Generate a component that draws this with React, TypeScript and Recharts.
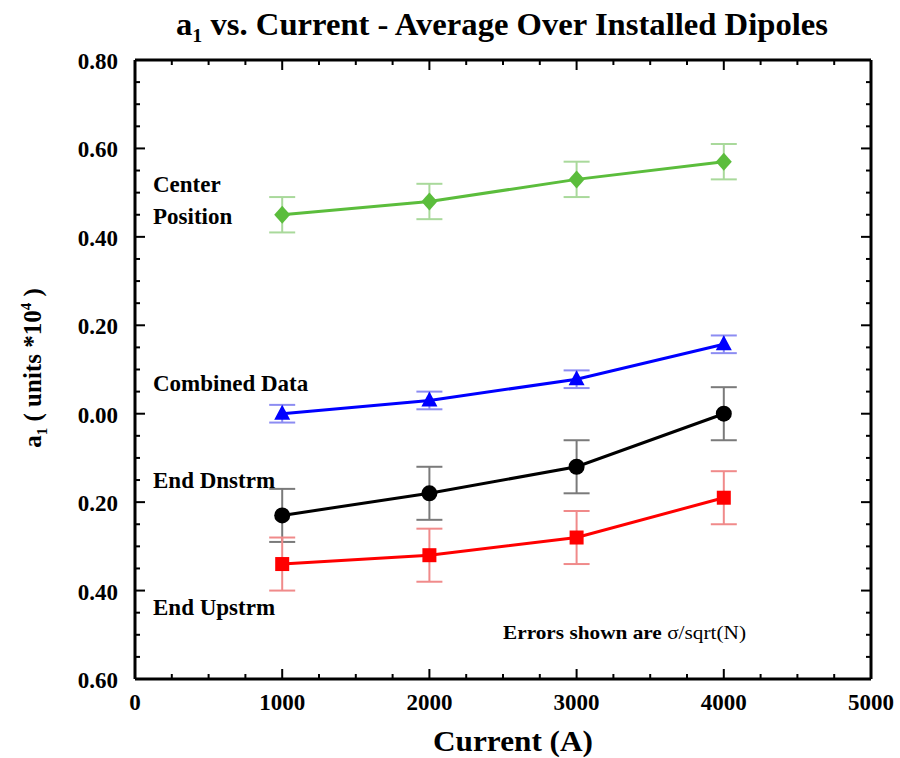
import React from "react";
import { LineChart, Line, XAxis, YAxis, ErrorBar } from "recharts";

const currents = [1000, 2000, 3000, 4000];
const centerPosition = [0.45, 0.48, 0.53, 0.57];
const centerErr = [0.04, 0.04, 0.04, 0.04];
const combinedData = [0.0, 0.03, 0.078, 0.157];
const combinedErr = [0.02, 0.02, 0.02, 0.02];
const endDnstrm = [-0.23, -0.18, -0.12, 0.0];
const dnErr = [0.06, 0.06, 0.06, 0.06];
const endUpstrm = [-0.34, -0.32, -0.28, -0.19];
const upErr = [0.06, 0.06, 0.06, 0.06];

const xTicks = [0, 250, 500, 750, 1000, 1250, 1500, 1750, 2000, 2250, 2500, 2750, 3000, 3250, 3500, 3750, 4000, 4250, 4500, 4750, 5000];
const yTicks = [-0.6, -0.55, -0.5, -0.45, -0.4, -0.35, -0.3, -0.25, -0.2, -0.15, -0.1, -0.05, 0, 0.05, 0.1, 0.15, 0.2, 0.25, 0.3, 0.35, 0.4, 0.45, 0.5, 0.55, 0.6, 0.65, 0.7, 0.75, 0.8];

const rows = currents.map((c, i) => ({
  current: c,
  center: centerPosition[i],
  centerErr: centerErr[i],
  combined: combinedData[i],
  combinedErr: combinedErr[i],
  dn: endDnstrm[i],
  dnErr: dnErr[i],
  up: endUpstrm[i],
  upErr: upErr[i],
}));

const FONT = "'Liberation Serif', 'Times New Roman', serif";
const MAJ = 10;
const MIN = 5;

const isMajorX = (v: number) => Math.round(v) % 1000 === 0;
const isMajorY = (v: number) => Math.round(v * 100) % 20 === 0;

const BottomTick = (p: any) => {
  const v = p.payload.value;
  const major = isMajorX(v);
  return (
    <g>
      <line x1={p.x} x2={p.x} y1={p.y} y2={p.y - (major ? MAJ : MIN)} stroke="#000" strokeWidth={2} />
      {major && (
        <text x={p.x} y={p.y + 31} textAnchor="middle" fontFamily={FONT} fontWeight="bold" fontSize={23} fill="#000">
          {v}
        </text>
      )}
    </g>
  );
};
const TopTick = (p: any) => {
  const major = isMajorX(p.payload.value);
  return <line x1={p.x} x2={p.x} y1={p.y} y2={p.y + (major ? MAJ : MIN)} stroke="#000" strokeWidth={2} />;
};
const LeftTick = (p: any) => {
  const v = p.payload.value;
  const major = isMajorY(v);
  return (
    <g>
      <line x1={p.x} x2={p.x + (major ? MAJ : MIN)} y1={p.y} y2={p.y} stroke="#000" strokeWidth={2} />
      {major && (
        <text x={p.x - 17} y={p.y + 9} textAnchor="end" fontFamily={FONT} fontWeight="bold" fontSize={23} fill="#000">
          {Math.abs(v).toFixed(2)}
        </text>
      )}
    </g>
  );
};
const RightTick = (p: any) => {
  const major = isMajorY(p.payload.value);
  return <line x1={p.x} x2={p.x - (major ? MAJ : MIN)} y1={p.y} y2={p.y} stroke="#000" strokeWidth={2} />;
};

const Diamond = (p: any) => (
  <polygon points={`${p.cx},${p.cy - 9} ${p.cx + 8},${p.cy} ${p.cx},${p.cy + 9} ${p.cx - 8},${p.cy}`} fill="#5bbd3c" />
);
const Triangle = (p: any) => (
  <polygon points={`${p.cx},${p.cy - 9} ${p.cx + 8},${p.cy + 6} ${p.cx - 8},${p.cy + 6}`} fill="#0000ff" />
);
const Circle = (p: any) => <circle cx={p.cx} cy={p.cy} r={8} fill="#000" />;
const Square = (p: any) => <rect x={p.cx - 7} y={p.cy - 7} width={14} height={14} fill="#ff0000" />;

const axisLine = { stroke: "#000", strokeWidth: 3 };

export default function App() {
  return (
    <div style={{ position: "absolute", left: 0, top: 0, width: 900, height: 758, background: "#fff" }}>
      <LineChart width={900} height={758} data={rows} margin={{ top: 59, right: 28, bottom: 0, left: 0 }}>
        <XAxis
          dataKey="current"
          type="number"
          domain={[0, 5000]}
          ticks={xTicks}
          interval={0}
          height={79}
          tickSize={0}
          tickMargin={0}
          tickLine={false}
          axisLine={axisLine}
          tick={<BottomTick />}
        />
        <XAxis
          xAxisId="top"
          dataKey="current"
          orientation="top"
          type="number"
          domain={[0, 5000]}
          ticks={xTicks}
          interval={0}
          height={1}
          tickSize={0}
          tickMargin={0}
          tickLine={false}
          axisLine={axisLine}
          tick={<TopTick />}
        />
        <YAxis
          type="number"
          domain={[-0.6, 0.8]}
          ticks={yTicks}
          interval={0}
          width={135}
          tickSize={0}
          tickMargin={0}
          tickLine={false}
          axisLine={axisLine}
          tick={<LeftTick />}
        />
        <YAxis
          yAxisId="right"
          orientation="right"
          type="number"
          domain={[-0.6, 0.8]}
          ticks={yTicks}
          interval={0}
          width={1}
          tickSize={0}
          tickMargin={0}
          tickLine={false}
          axisLine={axisLine}
          tick={<RightTick />}
        />
        <Line
          xAxisId="top"
          yAxisId="right"
          dataKey="center"
          stroke="none"
          strokeWidth={0}
          dot={false}
          activeDot={false}
          legendType="none"
          isAnimationActive={false}
        />
        <Line dataKey="center" stroke="#5bbd3c" strokeWidth={3} dot={<Diamond />} activeDot={false} isAnimationActive={false}>
          <ErrorBar dataKey="centerErr" width={13} stroke="#a9d99b" strokeWidth={2} direction="y" />
        </Line>
        <Line dataKey="combined" stroke="#0000ff" strokeWidth={3} dot={<Triangle />} activeDot={false} isAnimationActive={false}>
          <ErrorBar dataKey="combinedErr" width={13} stroke="#8c8cf2" strokeWidth={2} direction="y" />
        </Line>
        <Line dataKey="dn" stroke="#000" strokeWidth={3} dot={<Circle />} activeDot={false} isAnimationActive={false}>
          <ErrorBar dataKey="dnErr" width={13} stroke="#7a7a7a" strokeWidth={2} direction="y" />
        </Line>
        <Line dataKey="up" stroke="#ff0000" strokeWidth={3} dot={<Square />} activeDot={false} isAnimationActive={false}>
          <ErrorBar dataKey="upErr" width={13} stroke="#f08a8a" strokeWidth={2} direction="y" />
        </Line>
      </LineChart>
      <svg width={900} height={758} style={{ position: "absolute", left: 0, top: 0, pointerEvents: "none" }}>
        <g fontFamily={FONT} fontWeight="bold" fill="#000">
          <text x={176} y={35} fontSize={31} textLength={652} lengthAdjust="spacingAndGlyphs">
            a<tspan dy={7} fontSize={19}>1</tspan>
            <tspan dy={-7}> vs. Current - Average Over Installed Dipoles</tspan>
          </text>
          <text x={433} y={751} fontSize={29} textLength={160} lengthAdjust="spacingAndGlyphs">Current (A)</text>
          <text x={0} y={0} textAnchor="middle" fontSize={25} transform="translate(41,368) rotate(-90)">
            a<tspan dy={6} fontSize={15}>1</tspan>
            <tspan dy={-6}> ( units *10</tspan>
            <tspan dy={-10} fontSize={15}>4</tspan>
            <tspan dy={10}> )</tspan>
          </text>
          <text x={153} y={192} fontSize={23}>Center</text>
          <text x={153} y={224} fontSize={23}>Position</text>
          <text x={153} y={391} fontSize={23}>Combined Data</text>
          <text x={153} y={488} fontSize={23}>End Dnstrm</text>
          <text x={153} y={615} fontSize={23}>End Upstrm</text>
          <text x={503} y={639} fontSize={19} textLength={243} lengthAdjust="spacingAndGlyphs">
            Errors shown are <tspan fontWeight="normal">σ/sqrt(N)</tspan>
          </text>
        </g>
      </svg>
    </div>
  );
}
